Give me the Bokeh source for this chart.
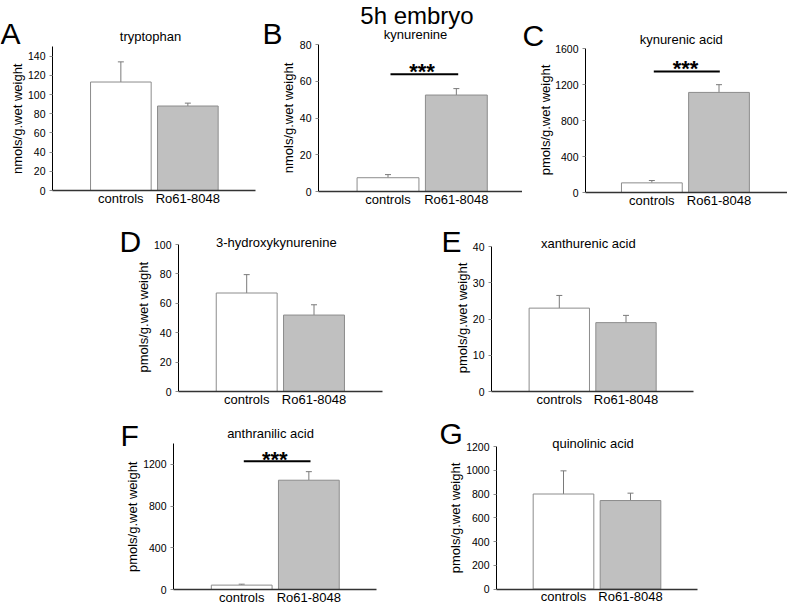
import math
from bokeh.plotting import figure
from bokeh.layouts import column, row
from bokeh.models import Range1d, FixedTicker, Label, Whisker, TeeHead, ColumnDataSource
from bokeh.embed import file_html
from bokeh.resources import INLINE

# ---------------- data ----------------
categories = ["controls", "Ro61-8048"]

trp_mean = [113, 88]
trp_sem = [21, 3]
kyn_mean = [7.5, 52.5]
kyn_sem = [1.7, 3.5]
kyna_mean = [107, 1112]
kyna_sem = [26, 86]
hk_mean = [67, 52]
hk_sem = [12.5, 7]
xa_mean = [23, 19]
xa_sem = [3.5, 2]
aa_mean = [42, 1048]
aa_sem = [9, 82]
qa_mean = [800, 745]
qa_sem = [195, 62]

trp_ticks = [0, 20, 40, 60, 80, 100, 120, 140]
kyn_ticks = [0, 20, 40, 60, 80]
kyna_ticks = [0, 400, 800, 1200, 1600]
hk_ticks = [0, 20, 40, 60, 80, 100]
xa_ticks = [0, 10, 20, 30, 40]
aa_ticks = [0, 400, 800, 1200]
qa_ticks = [0, 200, 400, 600, 800, 1000, 1200]

nmol_label = "nmols/g.wet weight"
pmol_label = "pmols/g.wet weight"
main_title = "5h embryo"
sig_text = "***"

FONT = "Liberation Sans"
BAR_FILLS = ["white", "#c0c0c0"]
BAR_LINE = "#8c8c8c"
ERR_COLOR = "#7a7a7a"
STAR_SIZE = 22
BASE_SHIFT = 0.345  # em offset between requested and rendered text baseline

# ---------------- layout (page pixel geometry) ----------------
panels = [
    dict(letter="A", title="tryptophan", ylabel=nmol_label, mean=trp_mean, sem=trp_sem,
         ticks=trp_ticks, ymax=150,
         fig=(0, 0, 262, 210), frame=(52, 46, 255, 190), c0=120.35, unit=67.0,
         letter_pos=(0, 43), title_pos=(150, 40.5), ylabel_pos=(16.7, 118.3), sig=None),
    dict(letter="B", title="kynurenine", ylabel=nmol_label, mean=kyn_mean, sem=kyn_sem,
         ticks=kyn_ticks, ymax=80,
         fig=(262, 0, 260, 210), frame=(318, 44, 522, 191), c0=387.5, unit=68.35,
         letter_pos=(262, 43), title_pos=(415, 38), ylabel_pos=(288.3, 117.5),
         sig=(390, 457.7, 73.7, 421.5, 71), extra=(main_title, 416.5, 23, 24)),
    dict(letter="C", title="kynurenic acid", ylabel=pmol_label, mean=kyna_mean, sem=kyna_sem,
         ticks=kyna_ticks, ymax=1600,
         fig=(522, 0, 265, 210), frame=(585, 48, 787, 192), c0=651.35, unit=67.15,
         letter_pos=(522, 45), title_pos=(680.7, 43.3), ylabel_pos=(545, 119.5),
         sig=(653.3, 719.3, 71, 685, 68.3)),
    dict(letter="D", title="3-hydroxykynurenine", ylabel=pmol_label, mean=hk_mean, sem=hk_sem,
         ticks=hk_ticks, ymax=100,
         fig=(0, 210, 400, 202), frame=(178, 244, 382, 391), c0=246.2, unit=67.3,
         letter_pos=(119, 251), title_pos=(275.8, 246.5), ylabel_pos=(143.3, 316.7), sig=None),
    dict(letter="E", title="xanthurenic acid", ylabel=pmol_label, mean=xa_mean, sem=xa_sem,
         ticks=xa_ticks, ymax=40,
         fig=(400, 210, 387, 202), frame=(491, 246, 693, 391), c0=558.8, unit=66.7,
         letter_pos=(441, 251), title_pos=(587.8, 247.7), ylabel_pos=(461.7, 317.5), sig=None),
    dict(letter="F", title="anthranilic acid", ylabel=pmol_label, mean=aa_mean, sem=aa_sem,
         ticks=aa_ticks, ymax=1400,
         fig=(0, 412, 400, 193), frame=(173, 443, 376, 589), c0=241.2, unit=67.15,
         letter_pos=(120, 445), title_pos=(270, 437.7), ylabel_pos=(131.7, 516.3),
         sig=(243.3, 310, 460.7, 274.3, 459)),
    dict(letter="G", title="quinolinic acid", ylabel=pmol_label, mean=qa_mean, sem=qa_sem,
         ticks=qa_ticks, ymax=1200,
         fig=(400, 412, 387, 193), frame=(496, 446, 697, 588.5), c0=563.0, unit=67.0,
         letter_pos=(439, 443.3), title_pos=(592.5, 447.7), ylabel_pos=(455, 517.5), sig=None),
]


def build(cfg):
    fx, fy, W, H = cfg["fig"]
    fl, ft, fr, fb = cfg["frame"]
    c0, unit = cfg["c0"], cfg["unit"]
    ymax = cfg["ymax"]
    kpx = (fb - ft) / ymax  # pixels per data unit (y)

    def dx(px):
        return (px - c0) / unit

    def dy(py):
        return (fb - py) / kpx

    # the whole canvas is the frame; the axes are pinned inside it
    p = figure(width=W, height=H,
               x_range=Range1d(dx(fx), dx(fx + W)),
               y_range=Range1d(dy(fy + H), dy(fy)),
               min_border=0, title_location=None,
               output_backend="svg", toolbar_location=None)
    p.xgrid.visible = False
    p.ygrid.visible = False
    p.outline_line_color = None
    p.background_fill_color = "white"
    p.border_fill_color = "white"

    def label(px, py, text, size, align="center", baseline="alphabetic", angle=0.0, style="normal"):
        if baseline == "alphabetic":
            py = py - BASE_SHIFT * size
        p.add_layout(Label(x=dx(px), y=dy(py), text=text, text_font=FONT,
                           text_font_size=f"{size}px", text_font_style=style,
                           text_align=align, text_baseline=baseline, angle=angle,
                           text_color="black"))

    # y axis
    yax = p.yaxis[0]
    yax.fixed_location = dx(fl)
    yax.bounds = (0, ymax)
    yax.ticker = FixedTicker(ticks=cfg["ticks"])
    yax.minor_tick_line_color = None
    yax.major_tick_out = 3
    yax.major_tick_in = 0
    yax.major_tick_line_color = "#8c8c8c"
    yax.axis_line_color = "black"
    yax.axis_line_width = 1
    yax.major_label_text_font = FONT
    yax.major_label_text_font_size = "10.5px"
    yax.major_label_text_color = "black"
    yax.major_label_standoff = 4

    # x axis (categories)
    xax = p.xaxis[0]
    xax.fixed_location = 0
    xax.bounds = (dx(fl), dx(fr))
    xax.ticker = FixedTicker(ticks=list(range(len(categories))))
    xax.major_label_overrides = {i: c for i, c in enumerate(categories)}
    xax.major_tick_line_color = None
    xax.major_tick_out = 0
    xax.major_tick_in = 0
    xax.minor_tick_line_color = None
    xax.axis_line_color = "#333333"
    xax.axis_line_width = 1.5
    xax.major_label_text_font = FONT
    xax.major_label_text_font_size = "13px"
    xax.major_label_text_color = "black"
    xax.major_label_standoff = 0

    mean, sem = cfg["mean"], cfg["sem"]
    src = ColumnDataSource(dict(
        x=list(range(len(categories))),
        top=mean,
        upper=[m + s for m, s in zip(mean, sem)],
        fill=BAR_FILLS,
    ))
    p.vbar(x="x", top="top", width=0.905, source=src, fill_color="fill",
           line_color=BAR_LINE, line_width=1)
    p.add_layout(Whisker(base="x", lower="top", upper="upper", source=src,
                         line_color=ERR_COLOR, line_width=1,
                         upper_head=TeeHead(size=6, line_color=ERR_COLOR, line_width=1),
                         lower_head=None))

    # significance bar
    if cfg["sig"] is not None:
        xa, xb, ly, scx, sbase = cfg["sig"]
        p.segment(x0=[dx(xa)], y0=[dy(ly)], x1=[dx(xb)], y1=[dy(ly)],
                  line_color="black", line_width=2)
        p.add_layout(Label(x=dx(scx), y=dy(sbase), text=sig_text, text_font=FONT,
                           text_font_size=f"{STAR_SIZE}px", text_font_style="bold",
                           text_align="center", text_baseline="alphabetic",
                           text_color="black"))

    lx, ly = cfg["letter_pos"]
    label(lx, ly, cfg["letter"], 30, align="left")
    tx, ty = cfg["title_pos"]
    label(tx, ty, cfg["title"], 13)
    yx, yy = cfg["ylabel_pos"]
    label(yx, yy, cfg["ylabel"], 13, baseline="middle", angle=math.pi / 2)
    if cfg.get("extra"):
        et, ex, ey, es = cfg["extra"]
        label(ex, ey, et, es)
    return p


figs = [build(c) for c in panels]
layout = column(row(figs[0], figs[1], figs[2]),
                row(figs[3], figs[4]),
                row(figs[5], figs[6]))

open("out.html", "w").write(file_html(layout, INLINE))
